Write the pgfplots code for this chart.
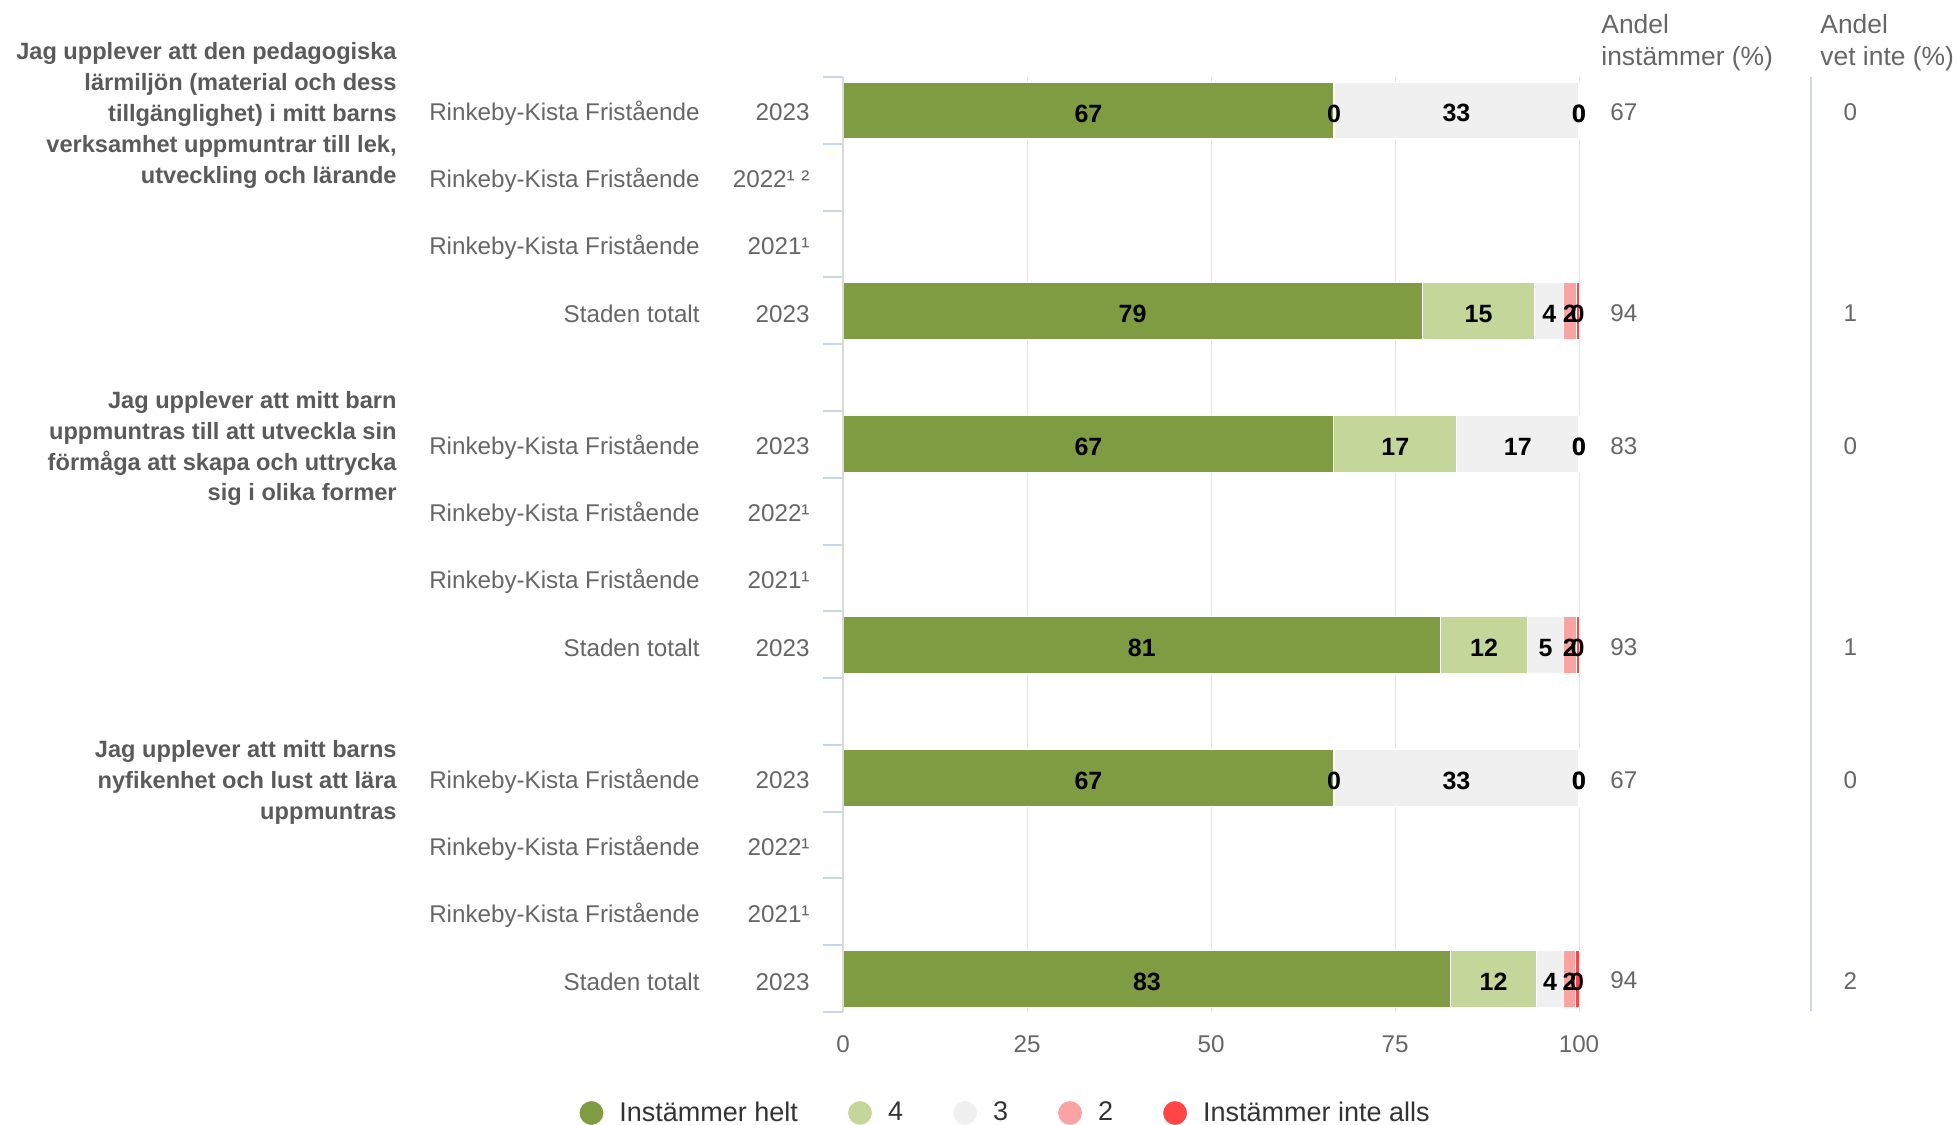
\documentclass[border=0pt]{standalone}
\usepackage{pgfplots}
\pgfplotsset{compat=1.18}
\usepackage{pgfplotstable}
\usepackage{fontspec}
\setmainfont{Liberation Sans}

\definecolor{cG}{HTML}{809C42}
\definecolor{cLG}{HTML}{C5D69B}
\definecolor{cGr}{HTML}{F0F0F0}
\definecolor{cPk}{HTML}{F9A3A3}
\definecolor{cRd}{HTML}{FF4545}
\definecolor{tickblue}{HTML}{CCD6EB}
\definecolor{gridc}{HTML}{E6E6E6}
\definecolor{axisc}{HTML}{DADADA}
\definecolor{labc}{HTML}{666666}
\definecolor{qc}{HTML}{5A5A5A}
\definecolor{legc}{HTML}{333333}

\pgfplotstableread{
y v lab
0 66.7 67
3 78.7 79
5 66.7 67
8 81.2 81
10 66.7 67
13 82.6 83
}\sA
\pgfplotstableread{
y v lab
0 0.01 0
3 15.3 15
5 16.7 17
8 11.8 12
10 0.01 0
13 11.6 12
}\sB
\pgfplotstableread{
y v lab
0 33.27 33
3 3.9 4
5 16.58 17
8 4.9 5
10 33.27 33
13 3.7 4
}\sC
\pgfplotstableread{
y v lab
0 0.01 0
3 1.7 2
5 0.01 0
8 1.7 2
10 0.01 0
13 1.6 2
}\sD
\pgfplotstableread{
y v lab
0 0.01 0
3 0.4 0
5 0.01 0
8 0.4 0
10 0.01 0
13 0.5 0
}\sE
\pgfplotstableread{
y ins vet
0 67 0
3 94 1
5 83 0
8 93 1
10 67 0
13 94 2
}\sR

\pgfplotsset{
  common/.style={
    at={(421.5pt,-38.5pt)}, anchor=north west,
    width=368pt, height=467.5pt, scale only axis,
    xmin=0, xmax=100, ymin=-0.5, ymax=13.5, y dir=reverse,
    clip=false,
    /pgf/number format/assume math mode=true,
  },
}

\begin{document}
\begin{tikzpicture}
\path[use as bounding box] (0pt,0pt) rectangle (978.5pt,-562pt);

% question texts
\node[anchor=east, align=right, inner sep=0pt, font=\bfseries\fontsize{11.8}{15.4}\selectfont, text=qc] at (198.5pt,-57.7pt)
 {Jag upplever att den pedagogiska\\lärmiljön (material och dess\\tillgänglighet) i mitt barns\\verksamhet uppmuntrar till lek,\\utveckling och lärande};
\node[anchor=east, align=right, inner sep=0pt, font=\bfseries\fontsize{11.8}{15.4}\selectfont, text=qc] at (198.5pt,-224.3pt)
 {Jag upplever att mitt barn\\uppmuntras till att utveckla sin\\förmåga att skapa och uttrycka\\sig i olika former};
\node[anchor=east, align=right, inner sep=0pt, font=\bfseries\fontsize{11.8}{15.4}\selectfont, text=qc] at (198.5pt,-391.3pt)
 {Jag upplever att mitt barns\\nyfikenhet och lust att lära\\uppmuntras};

% headers
\node[anchor=north west, align=left, inner sep=0pt, font=\fontsize{13.2}{16.2}\selectfont, text=labc] at (800.5pt,-7pt) {Andel\\instämmer (\%)};
\node[anchor=north west, align=left, inner sep=0pt, font=\fontsize{13.2}{16.2}\selectfont, text=labc] at (910pt,-7pt) {Andel\\vet inte (\%)};
\draw[tickblue, line width=1pt] (905.5pt,-38.5pt) -- (905.5pt,-505.5pt);

% bars
\begin{axis}[
  common,
  xbar stacked, bar width=28.4pt,
  axis line style={draw=none},
  xmajorgrids, grid style={color=gridc, line width=0.5pt},
  xtick={0,25,50,75,100},
  major tick length=0pt,
  ytick={0,1,2,3,5,6,7,8,10,11,12,13},
  yticklabels={
    {Rinkeby-Kista Fristående\makebox[55pt][r]{2023}},
    {Rinkeby-Kista Fristående\makebox[55pt][r]{2022¹ ²}},
    {Rinkeby-Kista Fristående\makebox[55pt][r]{2021¹}},
    {Staden totalt\makebox[55pt][r]{2023}},
    {Rinkeby-Kista Fristående\makebox[55pt][r]{2023}},
    {Rinkeby-Kista Fristående\makebox[55pt][r]{2022¹}},
    {Rinkeby-Kista Fristående\makebox[55pt][r]{2021¹}},
    {Staden totalt\makebox[55pt][r]{2023}},
    {Rinkeby-Kista Fristående\makebox[55pt][r]{2023}},
    {Rinkeby-Kista Fristående\makebox[55pt][r]{2022¹}},
    {Rinkeby-Kista Fristående\makebox[55pt][r]{2021¹}},
    {Staden totalt\makebox[55pt][r]{2023}}},
  minor ytick={-0.5,0.5,...,13.5},
  minor tick length=10pt,
  tick align=outside,
  ytick pos=left, xtick pos=bottom,
  minor tick style={color=tickblue, line width=1pt},
  yticklabel style={font=\fontsize{12.1}{15}\selectfont, text=labc, anchor=east, inner sep=0pt, xshift=-16.5pt, yshift=-1.5pt},
  xticklabel style={font=\fontsize{12.1}{15}\selectfont, text=labc, inner sep=0pt, yshift=-11.5pt},
  legend style={at={(0.229,-0.108)}, anchor=center, draw=none, fill=none, legend columns=5,
    font=\fontsize{13.5}{16}\selectfont, text=legc,
    /tikz/every even column/.append style={column sep=17pt},
    nodes={inner ysep=2pt, inner xsep=7.5pt}},
  legend image code/.code={\fill[#1] (6.25pt,0pt) circle (6.25pt);},
]
\draw[axisc, line width=1pt] (axis cs:0,-0.5) -- (axis cs:0,13.5);
\addplot[fill=cG, draw=white, line width=0.5pt] table[x=v, y=y] {\sA};
\addplot[fill=cLG, draw=white, line width=0.5pt] table[x=v, y=y] {\sB};
\addplot[fill=cGr, draw=white, line width=0.5pt] table[x=v, y=y] {\sC};
\addplot[fill=cPk, draw=white, line width=0.5pt] table[x=v, y=y] {\sD};
\addplot[fill=cRd, draw=white, line width=0.5pt] table[x=v, y=y] {\sE};
\legend{Instämmer helt,4,3,2,Instämmer inte alls}
\end{axis}

% data labels on top of all bars
\begin{axis}[
  common, hide axis,
  xbar stacked, bar width=28.4pt,
  visualization depends on={\thisrow{lab} \as \lab},
  nodes near coords={\pgfmathprintnumber[fixed,precision=0]{\lab}},
  every node near coord/.append style={anchor=center, font=\bfseries\fontsize{12.5}{15}\selectfont, text=black, yshift=-1.5pt},
]
\addplot[draw=none, fill=none] table[x=v, y=y] {\sA};
\addplot[draw=none, fill=none] table[x=v, y=y] {\sB};
\addplot[draw=none, fill=none] table[x=v, y=y] {\sC};
\addplot[draw=none, fill=none] table[x=v, y=y] {\sD};
\addplot[draw=none, fill=none] table[x=v, y=y] {\sE};
\end{axis}

% right-hand columns
\begin{axis}[
  common, hide axis,
  nodes near coords, point meta=explicit symbolic,
  every node near coord/.append style={anchor=west, inner sep=0pt, font=\fontsize{12.1}{15}\selectfont, text=labc, yshift=-1pt},
]
\addplot[draw=none, mark=none] table[x expr=104.2, y=y, meta=ins] {\sR};
\addplot[draw=none, mark=none] table[x expr=135.9, y=y, meta=vet] {\sR};
\end{axis}
\end{tikzpicture}
\end{document}
